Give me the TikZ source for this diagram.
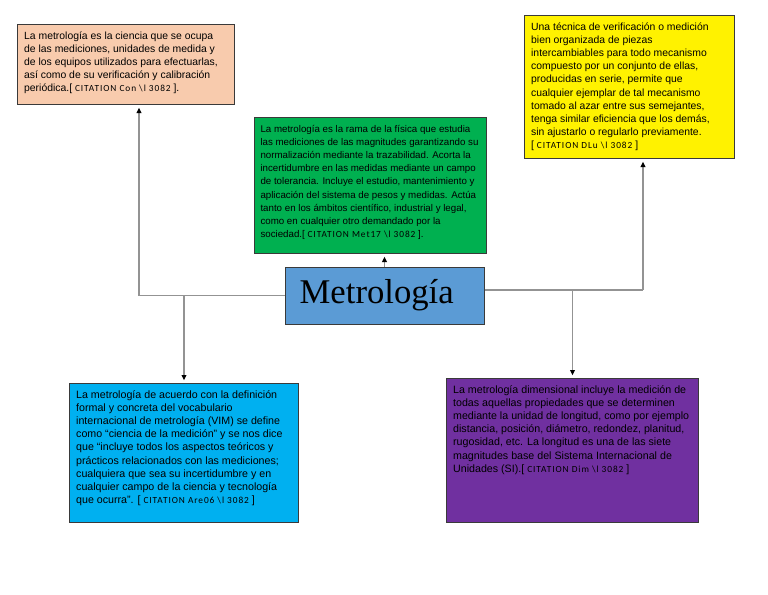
\documentclass[tikz,border=0pt]{standalone}
\usepackage{fontspec}
\setmainfont{Liberation Sans}
\newfontfamily\titlefont{Liberation Serif}
\newfontfamily\citefont[LetterSpace=10]{Carlito}
\usepackage{xcolor}
\usetikzlibrary{arrows.meta, positioning, calc}

\definecolor{peach}{HTML}{F8CBAD}
\definecolor{metgreen}{HTML}{00B050}
\definecolor{metblue}{HTML}{5B9BD5}
\definecolor{skyblue}{HTML}{00B0F0}
\definecolor{metpurple}{HTML}{7030A0}
\definecolor{edge}{HTML}{3A3A3A}

% text of a card: [font size], width, height, lines
\newcommand{\cardtext}[4][7.8]{\parbox[c][#3][t]{#2}{\fontsize{#1}{9.9}\selectfont
  \begin{tabular}[t]{@{}l@{}}#4\end{tabular}}}
\newcommand{\fieldcite}[1]{[ {\citefont\fontsize{7}{9.9}\selectfont CITATION #1 \textbackslash l 3082} ]}

\begin{document}
\begin{tikzpicture}[
  x=0.75pt, y=-0.75pt,
  card/.style={draw=edge, line width=0.75pt, rectangle, anchor=north west, inner xsep=5pt, inner ysep=4pt},
  link/.style={draw=gray!85, line width=0.9pt},
  arrow/.style={link, -{Triangle[length=4pt, width=3.5pt, color=black]}, shorten >=2pt}
]
  \useasboundingbox (0,0) rectangle (768,594);

  % central node
  \node[card, fill=metblue, anchor=center, minimum width=149.25pt, minimum height=42.75pt, inner sep=0pt,
        font=\titlefont\fontsize{26}{28}\selectfont] (metro) at (384.5,295.5)
        {\makebox[149.25pt][l]{\hspace{11pt}Metrología}};

  % top row
  \node[card, fill=peach] (ciencia) at (17,24) {\cardtext{152.75pt}{52pt}{%
    La metrología es la ciencia que se ocupa\\
    de las mediciones, unidades de medida y\\
    de los equipos utilizados para efectuarlas,\\
    así como de su verificación y calibración\\
    periódica.\fieldcite{Con}.}};

  \node[card, fill=metgreen, inner xsep=4.5pt] (rama) at (254,117) {\cardtext[7.3]{165pt}{94pt}{%
    La metrología es la rama de la física que estudia\\
    las mediciones de las magnitudes garantizando su\\
    normalización mediante la trazabilidad. Acorta la\\
    incertidumbre en las medidas mediante un campo\\
    de tolerancia. Incluye el estudio, mantenimiento y\\
    aplicación del sistema de pesos y medidas. Actúa\\
    tanto en los ámbitos científico, industrial y legal,\\
    como en cualquier otro demandado por la\\
    sociedad.\fieldcite{Met17}.}};

  \node[card, fill=yellow] (tecnica) at (524,15) {\cardtext{147.5pt}{99.25pt}{%
    Una técnica de verificación o medición\\
    bien organizada de piezas\\
    intercambiables para todo mecanismo\\
    compuesto por un conjunto de ellas,\\
    producidas en serie, permite que\\
    cualquier ejemplar de tal mecanismo\\
    tomado al azar entre sus semejantes,\\
    tenga similar eficiencia que los demás,\\
    sin ajustarlo o regularlo previamente.\\
    \fieldcite{DLu}}};

  % bottom row
  \node[card, fill=skyblue] (vim) at (69,383) {\cardtext[8]{161.75pt}{96.25pt}{%
    La metrología de acuerdo con la definición\\
    formal y concreta del vocabulario\\
    internacional de metrología (VIM) se define\\
    como “ciencia de la medición” y se nos dice\\
    que “incluye todos los aspectos teóricos y\\
    prácticos relacionados con las mediciones;\\
    cualquiera que sea su incertidumbre y en\\
    cualquier campo de la ciencia y tecnología\\
    que ocurra”. \fieldcite{Are06}}};

  \node[card, fill=metpurple] (dimen) at (446,378) {\cardtext[8]{179pt}{100pt}{%
    La metrología dimensional incluye la medición de\\
    todas aquellas propiedades que se determinen\\
    mediante la unidad de longitud, como por ejemplo\\
    distancia, posición, diámetro, redondez, planitud,\\
    rugosidad, etc. La longitud es una de las siete\\
    magnitudes base del Sistema Internacional de\\
    Unidades (SI).\fieldcite{Dim}}};

  % connectors
  \coordinate (lcorner) at (139,295.5);
  \coordinate (rcorner) at (643,290);
  \draw[link] (metro.west) -- (lcorner);
  \draw[arrow] (lcorner) -- (lcorner |- ciencia.south);
  \draw[arrow] (vim.north |- metro.west) -- (vim.north);
  \draw[arrow] (metro.north) -- (metro.north |- rama.south);
  \draw[link] (metro.east |- rcorner) -- (rcorner);
  \draw[arrow] (rcorner) -- (rcorner |- tecnica.south);
  \draw[arrow] (dimen.north |- rcorner) -- (dimen.north);

\end{tikzpicture}
\end{document}
